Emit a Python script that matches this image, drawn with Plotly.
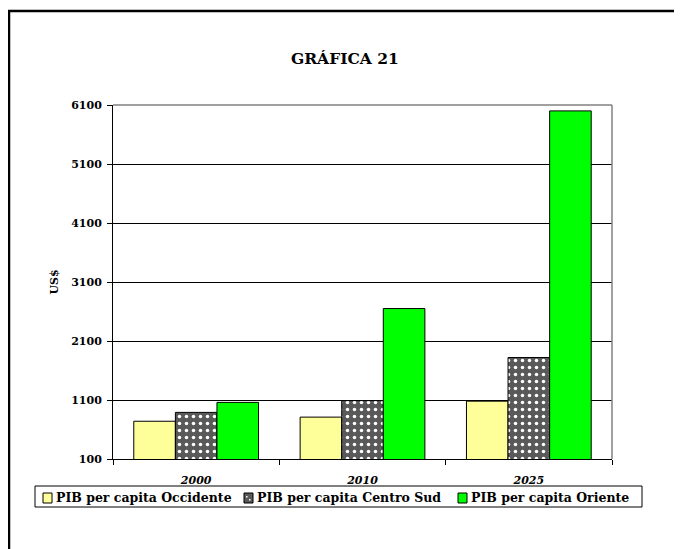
import plotly.graph_objects as go

# datos
anios = ['2000', '2010', '2025']
occidente = [740, 810, 1080]
centro_sud = [890, 1090, 1820]
oriente = [1060, 2650, 6000]
series = ['PIB per capita Occidente', 'PIB per capita Centro Sud', 'PIB per capita Oriente']

# el navegador deja 8px de margen en el body
OFF = 8
W, H = 682 - OFF, 549 - OFF
L, T = 113 - OFF, 105 - OFF
R, B = 70, 90
pw, ph = W - L - R, H - T - B

def px(x):  # pixel de la referencia -> paper x
  return (x - OFF - L) / pw

def py(y):  # pixel de la referencia -> paper y
  return (H - B - (y - OFF)) / ph

serif = 'DejaVu Serif'
amarillo, gris, verde = '#FFFF99', '#595959', '#00FF00'

fig = go.Figure(data=[
  go.Bar(x=anios, y=occidente, name=series[0],
         marker=dict(color=amarillo, line=dict(color='black', width=1))),
  go.Bar(x=anios, y=centro_sud, name=series[1],
         marker=dict(color=gris, line=dict(color='black', width=1),
                     pattern=dict(shape='.', bgcolor=gris, fgcolor='white',
                                  fgopacity=1, size=7, solidity=0.2))),
  go.Bar(x=anios, y=oriente, name=series[2],
         marker=dict(color=verde, line=dict(color='black', width=1))),
])

fig.update_layout(
  width=W, height=H,
  margin=dict(l=L, r=R, t=T, b=B),
  paper_bgcolor='white', plot_bgcolor='white',
  barmode='group', bargap=0.25, bargroupgap=0,
  font=dict(family=serif, color='black'),
  showlegend=False,
)

fig.update_xaxes(
  showline=True, linecolor='black', linewidth=1,
  ticks='outside', ticklen=5, tickcolor='black', tickson='boundaries',
  tickfont=dict(family=serif, size=11, weight='bold', style='italic'),
  ticklabelstandoff=11,
  showgrid=False,
)
fig.update_yaxes(
  range=[100, 6100], tick0=100, dtick=1000,
  showline=True, linecolor='black', linewidth=1,
  ticks='outside', ticklen=5, tickcolor='black',
  tickfont=dict(family=serif, size=11, weight='bold'),
  ticklabelstandoff=3,
  showgrid=True, gridcolor='black', gridwidth=1,
  title=dict(text='US$', font=dict(family=serif, size=11, weight='bold'), standoff=10),
)

# borde gris del area de trazado (arriba y derecha)
fig.add_shape(type='line', xref='paper', yref='paper', x0=0, x1=1, y0=1, y1=1,
              line=dict(color='#808080', width=1.5))
fig.add_shape(type='line', xref='paper', yref='paper', x0=1, x1=1, y0=0, y1=1,
              line=dict(color='#808080', width=1.5))

# marco exterior
fig.add_shape(type='rect', xref='paper', yref='paper',
              x0=px(9), x1=px(700), y0=py(570), y1=py(11),
              line=dict(color='black', width=2.5))

fig.add_annotation(text='<b>GRÁFICA 21</b>', xref='paper', yref='paper',
                   x=px(345), y=py(58), showarrow=False, xanchor='center', yanchor='middle',
                   font=dict(family=serif, size=15.5, color='black'))

# leyenda con recuadro
fig.add_shape(type='rect', xref='paper', yref='paper',
              x0=px(35), x1=px(642), y0=py(507), y1=py(486),
              line=dict(color='black', width=1), fillcolor='white')
sw_x = [43, 244, 458]
colores = [amarillo, gris, verde]
for nombre, col, x in zip(series, colores, sw_x):
  fig.add_shape(type='rect', xref='paper', yref='paper',
                x0=px(x), x1=px(x + 9), y0=py(503), y1=py(493),
                line=dict(color='black', width=1), fillcolor=col)
  fig.add_annotation(text='<b>' + nombre + '</b>', xref='paper', yref='paper',
                     x=px(x + 11), y=py(497.5), showarrow=False,
                     xanchor='left', yanchor='middle',
                     font=dict(family=serif, size=12.5, color='black'))
# puntos blancos del cuadro de Centro Sud
for dx, dy in [(2, 2), (5, 5)]:
  fig.add_shape(type='rect', xref='paper', yref='paper',
                x0=px(244 + dx), x1=px(244 + dx + 1.5), y0=py(494 + dy + 1.5), y1=py(494 + dy),
                line=dict(width=0), fillcolor='white')

fig.write_html('out.html')
